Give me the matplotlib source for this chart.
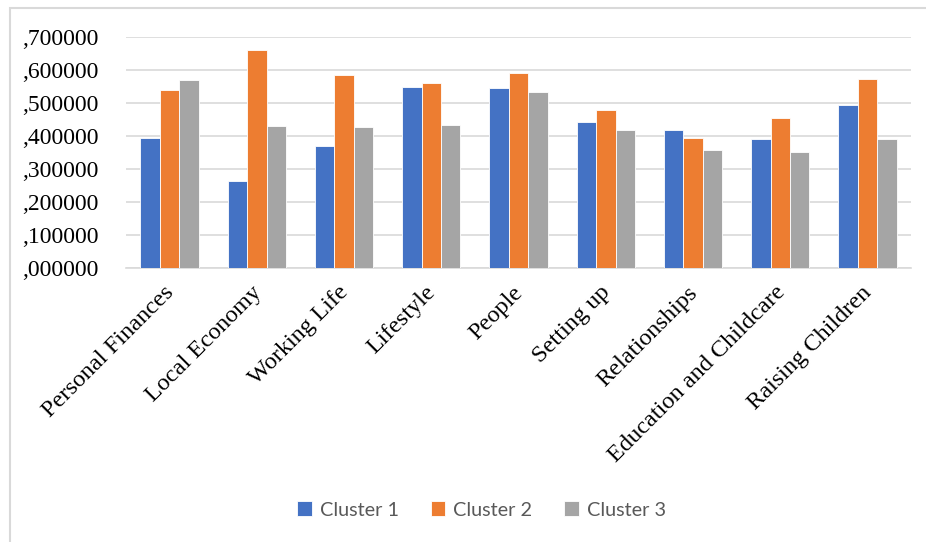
import numpy as np
import matplotlib
matplotlib.use("Agg")
import matplotlib.pyplot as plt
from matplotlib.patches import Rectangle

# data
categories = ["Personal Finances", "Local Economy", "Working Life", "Lifestyle", "People",
              "Setting up", "Relationships", "Education and Childcare", "Raising Children"]
cluster1 = [0.396, 0.265, 0.371, 0.549, 0.548, 0.445, 0.418, 0.391, 0.495]
cluster2 = [0.540, 0.662, 0.586, 0.561, 0.593, 0.480, 0.394, 0.457, 0.573]
cluster3 = [0.570, 0.431, 0.429, 0.435, 0.533, 0.419, 0.360, 0.353, 0.392]
series_names = ["Cluster 1", "Cluster 2", "Cluster 3"]
yticks = [0.0, 0.1, 0.2, 0.3, 0.4, 0.5, 0.6, 0.7]

colors = ["#4472C4", "#ED7D31", "#A5A5A5"]

fig = plt.figure(figsize=(9.26, 5.42), dpi=100)
ax = fig.add_axes([0.136, 0.505, 0.848, 0.426])

x = np.arange(len(categories))
w = 1 / 4.5   # gap width 150%
handles = []
for i, (vals, name) in enumerate(zip([cluster1, cluster2, cluster3], series_names)):
    b = ax.bar(x + (i - 1) * w, vals, width=w, color=colors[i], edgecolor="white",
               linewidth=0.6, label=name, zorder=3)
    handles.append(b)

ax.set_xlim(-0.5, len(categories) - 0.5)
ax.set_ylim(0, 0.7)
ax.set_yticks(yticks)
ax.set_yticklabels([",%06d" % int(round(v * 1e6)) for v in yticks],
                   fontfamily="Liberation Serif", fontsize=17)
ax.yaxis.grid(True, color="#d9d9d9", linewidth=1.2, zorder=0)
ax.tick_params(axis="y", length=0, pad=20)
ax.tick_params(axis="x", length=0, pad=10)
for s in ["top", "right", "left"]:
    ax.spines[s].set_visible(False)
ax.spines["bottom"].set_color("#d9d9d9")
ax.spines["bottom"].set_linewidth(1.2)

ax.set_xticks(x - 0.07)
ax.set_xticklabels(categories, rotation=45, ha="right", va="top", rotation_mode="anchor",
                   fontfamily="Liberation Serif", fontsize=17.5)

leg = fig.legend(handles=handles, loc="center", bbox_to_anchor=(0.52, 0.059), ncol=3,
                 frameon=False, prop={"family": "Lato", "size": 14.3},
                 handlelength=0.75, handleheight=0.75, columnspacing=1.6, handletextpad=0.4)
for t in leg.get_texts():
    t.set_color("#595959")

# chart outline (left and top edges visible)
fig.patches.append(Rectangle((10 / 926, -0.1), 1.2, (542 - 8) / 542 + 0.1,
                             transform=fig.transFigure, fill=False,
                             edgecolor="#d9d9d9", linewidth=1.5))

fig.savefig("out.png", dpi=100)
